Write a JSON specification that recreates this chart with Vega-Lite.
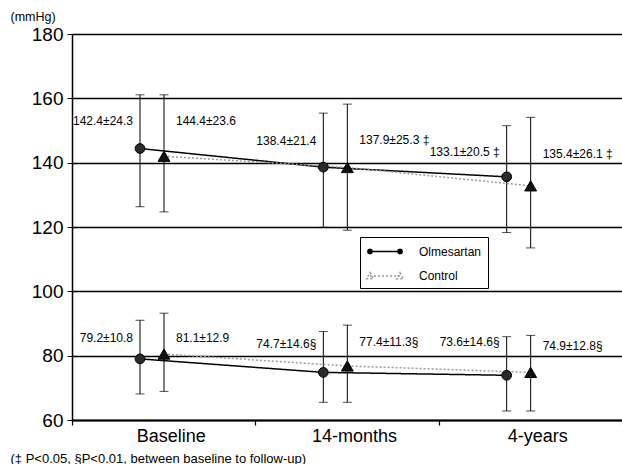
{
  "$schema": "https://vega.github.io/schema/vega-lite/v6.json",
  "width": 550,
  "height": 386,
  "autosize": {"type": "none"},
  "padding": {"left": 72, "top": 34, "right": 0, "bottom": 44},
  "background": "white",
  "config": {"view": {"stroke": null}, "font": "Liberation Sans"},
  "data": {
    "values": [
      {"time": "Baseline", "group": "Olmesartan", "bp": "SBP", "mean": 144.4, "lo": 126.3, "hi": 161.1, "label": "142.4±24.3", "ly": 152.9},
      {"time": "Baseline", "group": "Control", "bp": "SBP", "mean": 142.0, "lo": 124.7, "hi": 161.1, "label": "144.4±23.6", "ly": 152.9},
      {"time": "14-months", "group": "Olmesartan", "bp": "SBP", "mean": 138.6, "lo": 119.9, "hi": 155.4, "label": "138.4±21.4", "ly": 146.8},
      {"time": "14-months", "group": "Control", "bp": "SBP", "mean": 138.5, "lo": 119.0, "hi": 158.2, "label": "137.9±25.3 ‡", "ly": 147.1},
      {"time": "4-years", "group": "Olmesartan", "bp": "SBP", "mean": 135.6, "lo": 118.3, "hi": 151.5, "label": "133.1±20.5 ‡", "ly": 143.4},
      {"time": "4-years", "group": "Control", "bp": "SBP", "mean": 132.8, "lo": 113.5, "hi": 154.1, "label": "135.4±26.1 ‡", "ly": 142.8},
      {"time": "Baseline", "group": "Olmesartan", "bp": "DBP", "mean": 79.0, "lo": 68.1, "hi": 91.0, "label": "79.2±10.8", "ly": 85.4},
      {"time": "Baseline", "group": "Control", "bp": "DBP", "mean": 80.5, "lo": 68.9, "hi": 93.2, "label": "81.1±12.9", "ly": 85.4},
      {"time": "14-months", "group": "Olmesartan", "bp": "DBP", "mean": 74.8, "lo": 65.5, "hi": 87.5, "label": "74.7±14.6§", "ly": 83.5},
      {"time": "14-months", "group": "Control", "bp": "DBP", "mean": 76.8, "lo": 65.5, "hi": 89.5, "label": "77.4±11.3§", "ly": 84.1},
      {"time": "4-years", "group": "Olmesartan", "bp": "DBP", "mean": 73.9, "lo": 62.8, "hi": 85.9, "label": "73.6±14.6§", "ly": 84.1},
      {"time": "4-years", "group": "Control", "bp": "DBP", "mean": 74.8, "lo": 62.8, "hi": 86.3, "label": "74.9±12.8§", "ly": 83.1}
    ]
  },
  "encoding": {
    "x": {
      "field": "time", "type": "nominal", "sort": ["Baseline", "14-months", "4-years"],
      "scale": {"paddingInner": 0, "paddingOuter": 0},
      "axis": {
        "title": "(‡ P<0.05, §P<0.01,  between baseline to follow-up)",
        "tickBand": "extent", "labelOffset": 7, "labelAngle": 0, "labelFontSize": 18, "labelColor": "black", "labelPadding": 2,
        "tickSize": 5, "tickColor": "black", "tickWidth": 1.2, "domainColor": "black", "domainWidth": 2, "grid": false,
        "titleX": -62, "titleY": 38, "titleAlign": "left", "titleBaseline": "middle", "titleFontSize": 13, "titleFontWeight": "normal", "titleColor": "black"
      }
    },
    "xOffset": {
      "field": "group", "type": "nominal", "sort": ["Olmesartan", "Control"],
      "scale": {"range": [56, 104], "paddingInner": 0, "paddingOuter": 0}
    }
  },
  "layer": [
    {
      "mark": {"type": "rule", "color": "black", "strokeWidth": 1},
      "encoding": {
        "y": {
          "field": "lo", "type": "quantitative",
          "scale": {"domain": [60, 180], "nice": false, "zero": false},
          "axis": {
            "values": [60, 80, 100, 120, 140, 160, 180], "grid": true, "gridColor": "black", "gridWidth": 1.3,
            "domainColor": "black", "domainWidth": 1.5, "tickColor": "black", "tickSize": 5,
            "labelFontSize": 19, "labelColor": "black", "labelPadding": 4,
            "title": "(mmHg)", "titleAngle": 0, "titleX": -62, "titleY": -18, "titleAlign": "left", "titleBaseline": "middle",
            "titleFontSize": 12.5, "titleFontWeight": "normal", "titleColor": "black"
          }
        },
        "y2": {"field": "hi"}
      }
    },
    {
      "mark": {"type": "tick", "orient": "horizontal", "size": 9, "thickness": 1, "color": "black"},
      "encoding": {"y": {"field": "hi", "type": "quantitative"}}
    },
    {
      "mark": {"type": "tick", "orient": "horizontal", "size": 9, "thickness": 1, "color": "black"},
      "encoding": {"y": {"field": "lo", "type": "quantitative"}}
    },
    {
      "mark": {"type": "line", "strokeWidth": 1.5},
      "encoding": {
        "y": {"field": "mean", "type": "quantitative"},
        "detail": {"field": "bp"},
        "stroke": {
          "field": "group", "type": "nominal",
          "scale": {"domain": ["Olmesartan", "Control"], "range": ["black", "#9a9a9a"]},
          "legend": {
            "title": null, "orient": "none", "legendX": 288, "legendY": 203,
            "strokeColor": "black", "fillColor": "white", "padding": 6,
            "symbolSize": 225, "symbolStrokeWidth": 1.5, "symbolType": "M-0.6,0L3.4,0",
            "labelFontSize": 12, "labelColor": "black", "labelOffset": 36, "rowPadding": 9.5,
            "encode": {
              "symbols": {
                "update": {
                  "shape": {"signal": "datum.value === 'Olmesartan' ? 'M-0.6,0L3.4,0M-0.3,0L-0.388,0.212L-0.6,0.3L-0.812,0.212L-0.9,0L-0.812,-0.212L-0.6,-0.3L-0.388,-0.212ZM3.7,0L3.612,0.212L3.4,0.3L3.188,0.212L3.1,0L3.188,-0.212L3.4,-0.3L3.612,-0.212Z' : 'M-0.6,0L3.4,0M-0.6,-0.45L-0.15,0.35L-1.05,0.35ZM3.4,-0.45L3.85,0.35L2.95,0.35Z'"},
                  "fill": {"signal": "datum.value === 'Olmesartan' ? 'black' : 'transparent'"}
                }
              }
            }
          }
        },
        "strokeDash": {
          "field": "group", "type": "nominal",
          "scale": {"domain": ["Olmesartan", "Control"], "range": [[1, 0], [2, 2]]},
          "legend": {
            "title": null, "orient": "none", "legendX": 288, "legendY": 203,
            "strokeColor": "black", "fillColor": "white", "padding": 6,
            "symbolSize": 225, "symbolStrokeWidth": 1.5, "symbolType": "M-0.6,0L3.4,0",
            "labelFontSize": 12, "labelColor": "black", "labelOffset": 36, "rowPadding": 9.5
          }
        }
      }
    },
    {
      "transform": [{"filter": "datum.group === 'Olmesartan'"}],
      "mark": {"type": "point", "shape": "circle", "size": 95, "filled": true, "fill": "#2a2a2a", "stroke": "black", "strokeWidth": 1, "opacity": 1},
      "encoding": {"y": {"field": "mean", "type": "quantitative"}}
    },
    {
      "transform": [{"filter": "datum.group === 'Control'"}],
      "mark": {"type": "point", "shape": "triangle-up", "size": 140, "filled": true, "fill": "#111111", "stroke": "black", "strokeWidth": 1, "opacity": 1},
      "encoding": {"y": {"field": "mean", "type": "quantitative"}}
    },
    {
      "transform": [{"filter": "datum.group === 'Olmesartan'"}],
      "mark": {"type": "text", "align": "right", "baseline": "middle", "dx": -7, "fontSize": 12, "color": "black"},
      "encoding": {
        "y": {"field": "ly", "type": "quantitative"},
        "text": {"field": "label"}
      }
    },
    {
      "transform": [{"filter": "datum.group === 'Control'"}],
      "mark": {"type": "text", "align": "left", "baseline": "middle", "dx": 12, "fontSize": 12, "color": "black"},
      "encoding": {
        "y": {"field": "ly", "type": "quantitative"},
        "text": {"field": "label"}
      }
    }
  ]
}
